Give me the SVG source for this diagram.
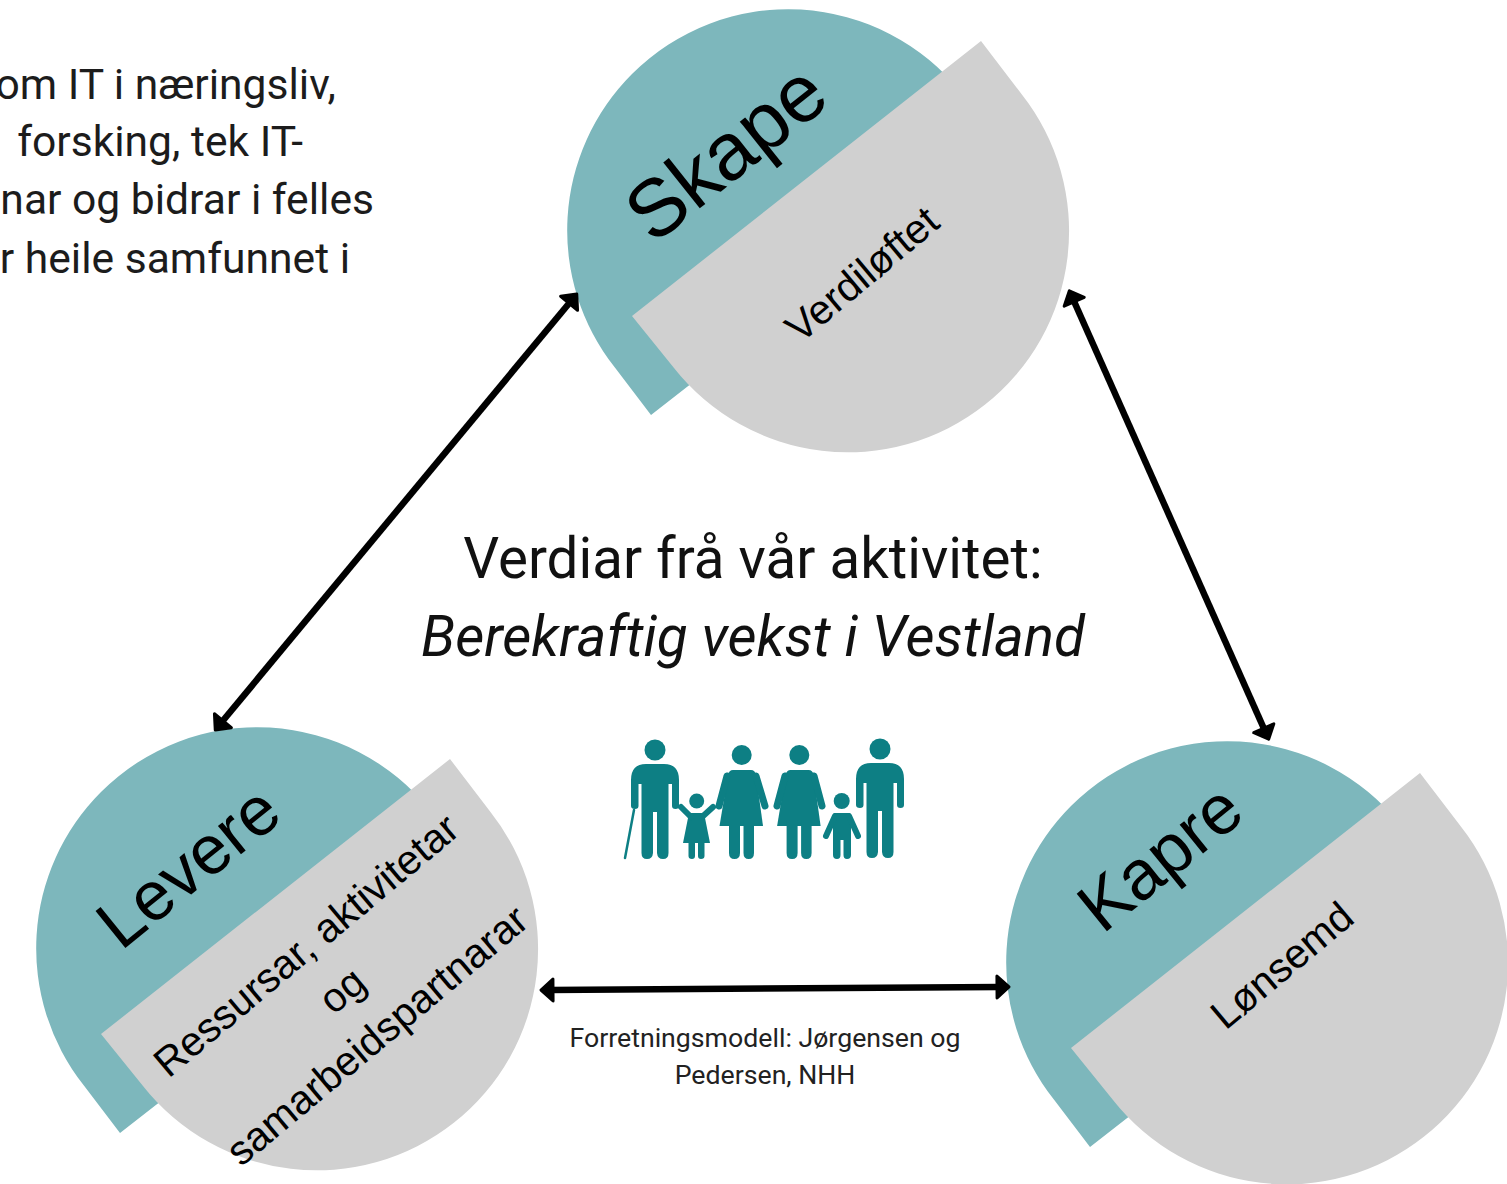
<svg xmlns="http://www.w3.org/2000/svg" xmlns:xlink="http://www.w3.org/1999/xlink" width="1507" height="1184" viewBox="0 0 1507 1184">
<style>
.bg{fill:#fff}
.teal{fill:#7db7bc}
.grey{fill:#d0d0d0}
.conn{stroke:#000;stroke-width:6.5;fill:none;marker-start:url(#head);marker-end:url(#head)}
.hd{font-family:"Liberation Sans",Arial,sans-serif;fill:#000;text-anchor:middle}
.sub{font-size:41px}
.rb{font-family:Roboto,"Liberation Sans",sans-serif;fill:#111}
.left{font-size:42.6px;text-anchor:end;fill:#1c1c1c}
.mid{font-size:56.5px;text-anchor:middle}
.cap{font-size:26.7px;text-anchor:middle;fill:#222}
.ic{fill:#0d7f84}
.ics{stroke:#0d7f84;fill:none;stroke-linecap:round}
</style>
<defs>
<marker id="head" markerUnits="userSpaceOnUse" markerWidth="44" markerHeight="44" viewBox="-22 -22 44 44" refX="0" refY="0" orient="auto-start-reverse">
<path d="M-3,-11 L9,0 L-3,11 Z" fill="#000" stroke="#000" stroke-width="3" stroke-linejoin="round"/>
</marker>
<path id="tealShape" d="M961.5,93 A221,221 0 0 0 632,74 A221,221 0 0 0 614.5,367 L651,415 L760,330 Z"/>
<path id="greyShape" d="M981,41 L632,316 L674,368 A221,221 0 1 0 1021.5,94 Z"/>
<g id="manFig"><circle cx="655" cy="750" r="10.5"/><path d="M631,780 Q631,764 646,764 H664 Q679,764 679,780 V806 Q679,809 675.5,809 Q672,809 672,806 V784 H668.5 V853 Q668.5,859 663,859 Q657.5,859 657,853 V812 H653 V853 Q652.5,859 647,859 Q641.5,859 641.5,853 V784 H638.5 V806 Q638.5,809 635,809 Q631,809 631,806 Z"/></g>
<g id="womanFig"><circle cx="741.7" cy="755" r="10"/><path d="M733,770 H751 Q755,770 756,775 L763,826 H719.5 L728,775 Q729,770 733,770 Z"/><path d="M729,820 H740 V853 Q740,859 734.5,859 Q729,859 729,853 Z M743.5,820 H754 V853 Q754,859 748.7,859 Q743.5,859 743.5,853 Z"/></g>
</defs>
<rect class="bg" width="1507" height="1184"/>

<g id="intro-text" class="rb left">
<text x="336" y="99">om IT i næringsliv,</text>
<text x="303" y="156">forsking, tek IT-</text>
<text x="374" y="214">nar og bidrar i felles</text>
<text x="350" y="273">r heile samfunnet i</text>
</g>

<g id="node-skape">
<use xlink:href="#tealShape" href="#tealShape" class="teal"/>
<use xlink:href="#greyShape" href="#greyShape" class="grey"/>
<text class="hd" font-size="81" transform="translate(743,174) rotate(-38.5)">Skape</text>
<text class="hd" font-size="41" transform="translate(871,285) rotate(-40)">Verdiløftet</text>
</g>

<g id="node-levere">
<g transform="translate(-531,718)">
<use xlink:href="#tealShape" href="#tealShape" class="teal"/>
<use xlink:href="#greyShape" href="#greyShape" class="grey"/>
</g>
<text class="hd" font-size="69" transform="translate(203,885) rotate(-39)">Levere</text>
<text class="hd sub" transform="translate(315,956) rotate(-40)">Ressursar, aktivitetar</text>
<text class="hd sub" transform="translate(351,1001) rotate(-40)">og</text>
<text class="hd sub" transform="translate(386,1046) rotate(-40)">samarbeidspartnarar</text>
</g>

<g id="node-kapre">
<g transform="translate(439,732)">
<use xlink:href="#tealShape" href="#tealShape" class="teal"/>
<use xlink:href="#greyShape" href="#greyShape" class="grey"/>
</g>
<text class="hd" font-size="70" transform="translate(1175,876) rotate(-39)">Kapre</text>
<text class="hd" font-size="41" transform="translate(1291,976) rotate(-40)">Lønsemd</text>
</g>

<g id="connectors">
<line class="conn" x1="571" y1="301" x2="221" y2="723"/>
<line class="conn" x1="1073" y1="299" x2="1265" y2="731"/>
<line class="conn" x1="550" y1="990" x2="1000" y2="987"/>
</g>

<g id="center-text" class="rb mid">
<text x="753" y="578">Verdiar frå vår aktivitet:</text>
<text x="753" y="656" font-style="italic">Berekraftig vekst i Vestland</text>
</g>

<g id="family-icon">
<g class="ic">
<use xlink:href="#manFig" href="#manFig"/>
<use xlink:href="#manFig" href="#manFig" transform="translate(225,-1)"/>
<use xlink:href="#womanFig" href="#womanFig"/>
<use xlink:href="#womanFig" href="#womanFig" transform="translate(57.6,0)"/>
<circle cx="696.7" cy="801" r="7.5"/>
<path d="M689,813 H704 L710,843 H704.5 V856 Q704.5,859 701,859 Q698,859 698,856 V843 H695 V856 Q695,859 692,859 Q688.5,859 688.5,856 V843 H683 Z"/>
<circle cx="841.7" cy="801" r="8"/>
<path d="M835,813 H848.5 Q851,813 851,816 V855 Q851,859 847,859 Q843.5,859 843.5,855 V840 H840.5 V855 Q840.5,859 837,859 Q833,859 833,855 V816 Q833,813 835,813 Z"/>
</g>
<path class="ics" stroke-width="2.5" d="M634,810 L625,858"/>
<path class="ics" stroke-width="7" d="M727,776 L719,806 M756,776 L765,806 M785,776 L777,806 M814,776 L822,806"/>
<path class="ics" stroke-width="6" d="M691,817 L681,807 M702,817 L713,807"/>
<path class="ics" stroke-width="6" d="M835,816 L826,836 M849,816 L858,836"/>
</g>

<g id="caption" class="rb cap">
<text x="765" y="1047">Forretningsmodell: Jørgensen og</text>
<text x="765" y="1084">Pedersen, NHH</text>
</g>
</svg>
